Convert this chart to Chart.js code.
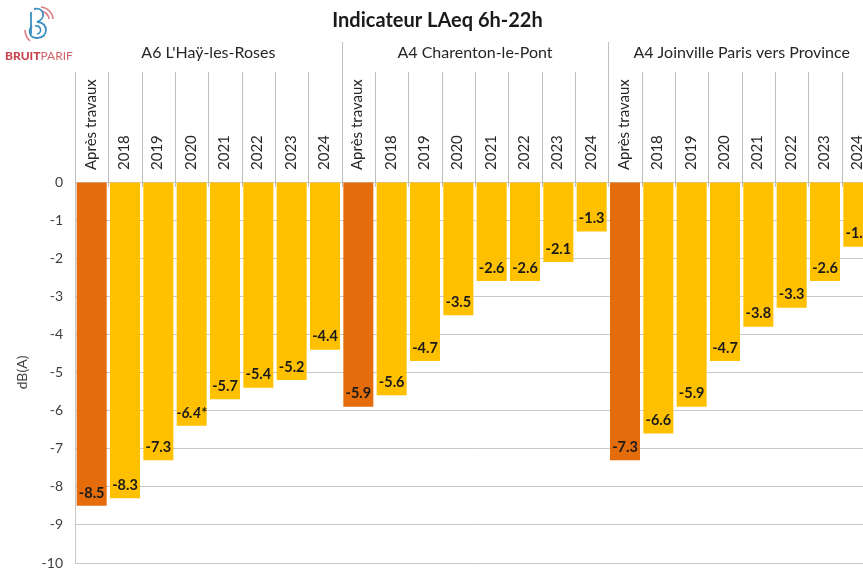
<!DOCTYPE html>
<html>
<head>
<meta charset="utf-8">
<script src="https://cdn.jsdelivr.net/npm/chart.js@4.4.1/dist/chart.umd.min.js"></script>
<style>
  html, body { margin: 0; padding: 0; background: #fff; }
  #wrap { position: relative; width: 863px; height: 569px; overflow: hidden; }
  #chart { position: absolute; left: 0; top: 0; }
  #logo { position: absolute; left: 0; top: 0; width: 80px; height: 66px; }
  #logo svg { position: absolute; left: 22px; top: 4px; }
  #logo .brand { position: absolute; left: 5px; top: 48px; font-family: Lato, sans-serif; font-size: 12px; color: #c8464f; letter-spacing: 0; }
  #logo .brand b { font-weight: 900; }
  #logo .brand span { font-weight: 400; color: #d2646b; }
</style>
</head>
<body>
<div id="wrap">
  <canvas id="chart" width="880" height="569"></canvas>
  <div id="logo">
    <svg width="34" height="40" viewBox="0 0 34 40">
      <path d="M19 3 A13 13 0 0 1 31 15" stroke="#e07a82" stroke-width="1.6" fill="none"/>
      <path d="M19 7 A9 9 0 0 1 27 15" stroke="#e07a82" stroke-width="1.6" fill="none"/>
      <path d="M8 37 A15 15 0 0 1 3 26" stroke="#e07a82" stroke-width="1.6" fill="none"/>
      <path d="M12 5 C22 3 25 14 15 18 C27 18 27 34 15 34 C7 34 6 26 10 22" stroke="#3b8fc1" stroke-width="1.8" fill="none"/>
      <path d="M9 8 L9 30" stroke="#3b8fc1" stroke-width="1.8" fill="none"/>
      <path d="M13 22 C19 21 21 29 15 30" stroke="#3b8fc1" stroke-width="1.6" fill="none"/>
    </svg>
    <div class="brand"><b>BRUIT</b><span>PARIF</span></div>
  </div>
</div>
<script>
// sites and periods
const groups = ["A6 L'Haÿ-les-Roses", "A4 Charenton-le-Pont", "A4 Joinville Paris vers Province"];
const periods = ['Après travaux', '2018', '2019', '2020', '2021', '2022', '2023', '2024'];

// LAeq 6h-22h differences in dB(A)
const hayValues = [-8.5, -8.3, -7.3, -6.4, -5.7, -5.4, -5.2, -4.4];
const charentonValues = [-5.9, -5.6, -4.7, -3.5, -2.6, -2.6, -2.1, -1.3];
const joinvilleValues = [-7.3, -6.6, -5.9, -4.7, -3.8, -3.3, -2.6, -1.7];
const hayNotes = ['', '', '', '*', '', '', '', ''];

const yTicks = [0, -1, -2, -3, -4, -5, -6, -7, -8, -9, -10];

const orange = '#e46c0a';
const yellow = '#ffc000';
const font = 'Lato, sans-serif';

var labels = [];
var values = [];
var colors = [];
var notes = [];
[hayValues, charentonValues, joinvilleValues].forEach(function (vals, g) {
    vals.forEach(function (v, i) {
        labels.push(periods[i]);
        values.push(v);
        colors.push(i === 0 ? orange : yellow);
        notes.push(g === 0 ? hayNotes[i] : '');
    });
});

// category separators + site names above the tick labels
const headerPlugin = {
    id: 'header',
    afterDraw(chart) {
        const ctx = chart.ctx;
        const x = chart.scales.x;
        const catW = (x.right - x.left) / labels.length;
        ctx.save();
        ctx.strokeStyle = '#bfbfbf';
        ctx.lineWidth = 1;
        for (let i = 0; i <= labels.length; i++) {
            const px = Math.round(x.left + i * catW) + 0.5;
            const top = (i % periods.length === 0 && i > 0) ? 42 : 72;
            ctx.beginPath();
            ctx.moveTo(px, top);
            ctx.lineTo(px, chart.chartArea.top + 5);
            ctx.stroke();
        }
        ctx.fillStyle = '#262626';
        ctx.font = '16px ' + font;
        ctx.textAlign = 'center';
        ctx.textBaseline = 'middle';
        groups.forEach(function (name, g) {
            const cx = x.left + (g + 0.5) * periods.length * catW;
            ctx.fillText(name, cx, 53);
        });
        ctx.restore();
    }
};

// value labels inside the bar ends
const valuePlugin = {
    id: 'values',
    afterDatasetsDraw(chart) {
        const ctx = chart.ctx;
        const meta = chart.getDatasetMeta(0);
        ctx.save();
        ctx.fillStyle = '#1a1a1a';
        ctx.textAlign = 'center';
        ctx.textBaseline = 'middle';
        meta.data.forEach(function (bar, i) {
            ctx.font = (notes[i] ? 'italic ' : '') + 'bold 14.5px ' + font;
            ctx.fillText(values[i].toFixed(1) + notes[i], bar.x, bar.y - 13);
        });
        ctx.restore();
    }
};

const ctx = document.getElementById('chart').getContext('2d');
const chart = new Chart(ctx, {
    type: 'bar',
    data: {
        labels: labels,
        datasets: [{
            data: values,
            backgroundColor: colors,
            barPercentage: 0.9,
            categoryPercentage: 1.0
        }]
    },
    options: {
        responsive: false,
        animation: false,
        layout: { padding: { left: 0, right: 5, top: 0, bottom: 6 } },
        plugins: {
            legend: { display: false },
            tooltip: { enabled: false },
            title: {
                display: true,
                text: 'Indicateur LAeq 6h-22h',
                color: '#1a1a1a',
                font: { family: font, size: 20, weight: 'bold' },
                padding: { top: 9, bottom: 5 }
            }
        },
        scales: {
            x: {
                position: 'top',
                grid: { display: false, drawTicks: false },
                border: { display: false },
                ticks: {
                    autoSkip: false,
                    minRotation: 90,
                    maxRotation: 90,
                    padding: 12,
                    labelOffset: 17,
                    color: '#262626',
                    font: { family: font, size: 15 }
                },
                afterFit: function (scale) { scale.height = 144; }
            },
            y: {
                min: -10,
                max: 0,
                afterBuildTicks: function (scale) {
                    scale.ticks = yTicks.map(function (v) { return { value: v }; });
                },
                grid: { color: '#c8c8c8', drawTicks: false },
                border: { display: true, color: '#c8c8c8' },
                ticks: {
                    padding: 12,
                    color: '#404040',
                    font: { family: font, size: 14 }
                },
                title: {
                    display: true,
                    text: 'dB(A)',
                    color: '#404040',
                    font: { family: font, size: 14 },
                    padding: { top: 14, bottom: 0 }
                },
                afterFit: function (scale) {
                    scale.width = 75;
                    scale.paddingTop = 0;
                    scale.paddingBottom = 0;
                }
            }
        }
    },
    plugins: [headerPlugin, valuePlugin]
});
</script>
</body>
</html>
